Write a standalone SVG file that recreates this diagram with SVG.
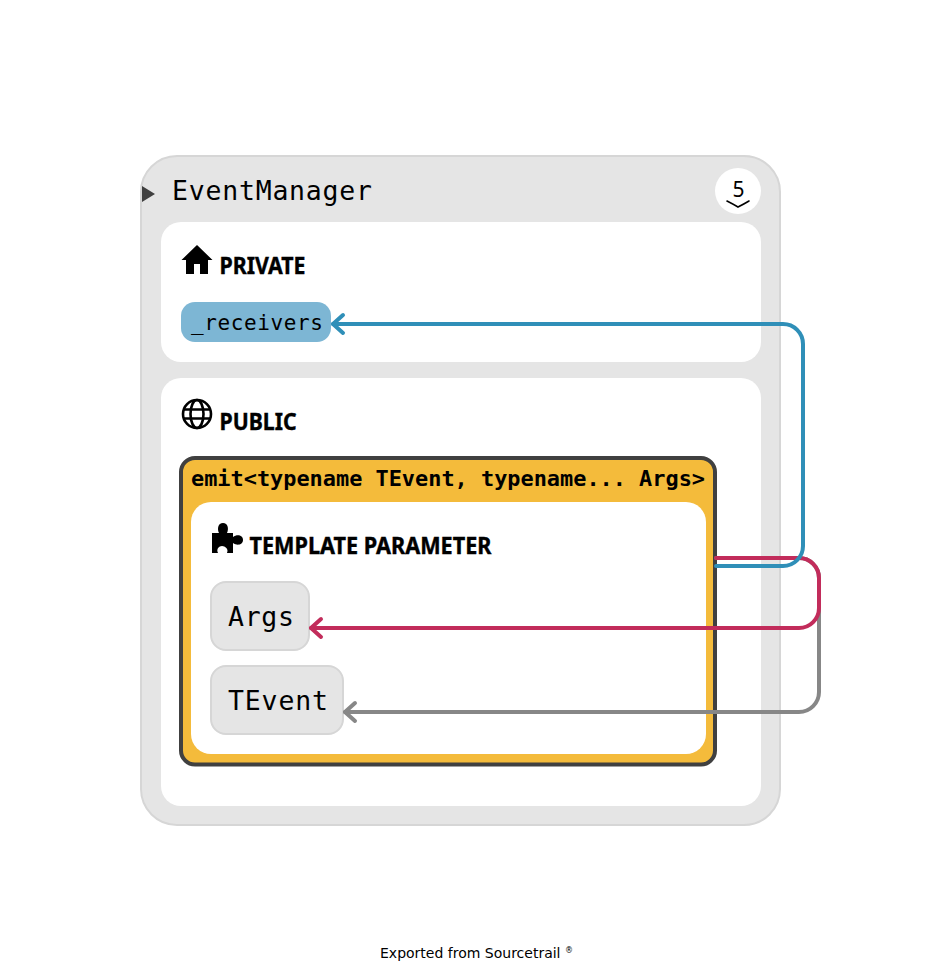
<svg xmlns="http://www.w3.org/2000/svg" width="942" height="972" viewBox="0 0 942 972">
<style>
.mono{font-family:"DejaVu Sans Mono","Liberation Mono",monospace;fill:#000}
.bold{font-family:"DejaVu Sans Mono",monospace;font-weight:700;font-size:22px;fill:#000}
.head{font-family:"Noto Sans","Open Sans",sans-serif;font-weight:700;font-size:23px;fill:#000;stroke:#000;stroke-width:.4}
.edge{fill:none;stroke-width:4;stroke-linecap:round;stroke-linejoin:round}
.tmpl{fill:#e5e5e5;stroke:#d6d6d6;stroke-width:2}
.sec{fill:#fff}
</style>
<rect width="942" height="972" fill="#fff"/>
<g id="node-EventManager">
<rect x="141" y="156" width="639" height="669" rx="36" fill="#e5e5e5" stroke="#d6d6d6" stroke-width="2"/>
<path d="M142 186 L155 194 L142 202Z" fill="#404040"/>
<text class="mono" x="172" y="200" font-size="26.500" textLength="200" lengthAdjust="spacing">EventManager</text>
<circle cx="738" cy="191" r="23" fill="#fff"/>
<text x="738.500" y="197" font-family="Noto Sans,sans-serif" font-size="21" text-anchor="middle" fill="#000">5</text>
<path d="M727 201 Q733 204 738 207 Q744 204 749 201" fill="none" stroke="#000" stroke-width="1.600" stroke-linecap="round"/>
</g>
<g id="node-private">
<rect class="sec" x="161" y="222" width="600" height="140" rx="20"/>
<path d="M197 245 L181.500 260 L186 260 L186 274 L194 274 L194 264 L200 264 L200 274 L208 274 L208 260 L212.500 260Z" fill="#000"/>
<text class="head" x="219.500" y="274" textLength="86" lengthAdjust="spacingAndGlyphs">PRIVATE</text>
</g>
<g id="node-receivers">
<rect x="181" y="302" width="150" height="40" rx="14" fill="#7db6d4"/>
<text class="mono" x="191" y="330" font-size="21" textLength="132" lengthAdjust="spacing">_receivers</text>
</g>
<g id="node-public">
<rect class="sec" x="161" y="378" width="600" height="428" rx="20"/>
<g fill="none" stroke="#000" stroke-width="2.600">
<circle cx="197" cy="414" r="14"/>
<ellipse cx="197" cy="414" rx="6.500" ry="14"/>
<path d="M184 409.500 H210 M184 418.500 H210"/>
</g>
<text class="head" x="219.500" y="430" textLength="77" lengthAdjust="spacingAndGlyphs">PUBLIC</text>
</g>
<g id="node-emit">
<rect x="181" y="458" width="534" height="306.500" rx="14" fill="#f4bb3b" stroke="#404040" stroke-width="4"/>
<text class="bold" x="191" y="486" textLength="514" lengthAdjust="spacingAndGlyphs">emit&lt;typename TEvent, typename... Args&gt;</text>
<rect class="sec" x="191" y="502" width="515" height="252" rx="20"/>
<path d="M212 533 H219 C217 529 218 523 223 523 C228 523 229 529 227 533 H233 V537 C237 534 243 535 243 540 C243 545 237 546 233 543 V553 H227 C229 549 225 546 222 546 C219 546 216 549 218 553 H212Z" fill="#000"/>
<text class="head" x="249.500" y="554" textLength="242" lengthAdjust="spacingAndGlyphs">TEMPLATE PARAMETER</text>
</g>
<g id="node-Args">
<rect class="tmpl" x="211" y="582" width="98" height="68" rx="15"/>
<text class="mono" x="228" y="626" font-size="26.500" textLength="66" lengthAdjust="spacing">Args</text>
</g>
<g id="node-TEvent">
<rect class="tmpl" x="211" y="666" width="132" height="68" rx="15"/>
<text class="mono" x="228" y="710" font-size="26.500" textLength="100" lengthAdjust="spacing">TEvent</text>
</g>
<g id="connectors">
<g stroke="#878787" class="edge"><path d="M716 558 H799 A20 20 0 0 1 819 578 V692 A20 20 0 0 1 799 712 H345"/><path d="M355 703 L345 712 L355 721"/></g>
<g stroke="#c22c5b" class="edge"><path d="M716 558 H799 A20 20 0 0 1 819 578 V608 A20 20 0 0 1 799 628 H311"/><path d="M321 619 L311 628 L321 637"/></g>
<g stroke="#2f8fb8" class="edge"><path d="M716 566 H783 A20 20 0 0 0 803 546 V344 A20 20 0 0 0 783 324 H333"/><path d="M343 315 L333 324 L343 333"/></g>
</g>
<text x="476.500" y="958" font-family="DejaVu Sans,sans-serif" font-size="14" text-anchor="middle" fill="#000">Exported from Sourcetrail <tspan font-size="8" dy="-5">®</tspan></text>
</svg>
